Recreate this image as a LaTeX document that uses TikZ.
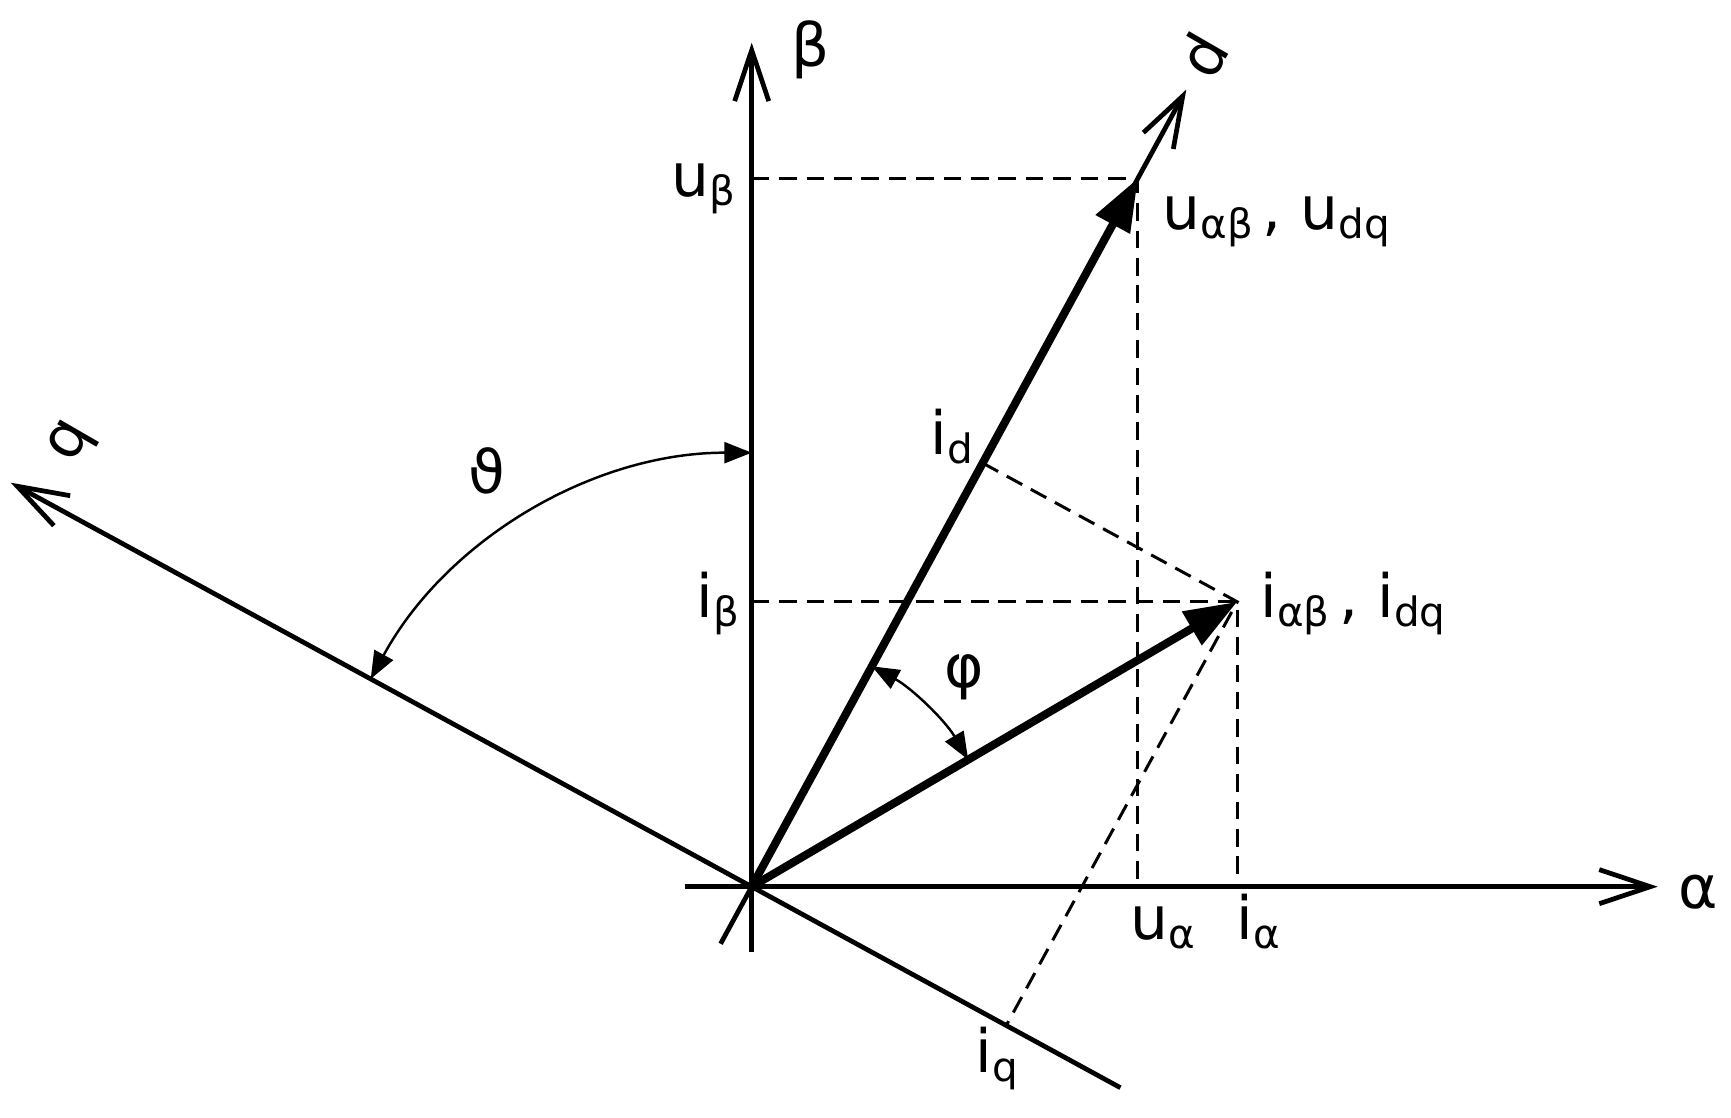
\documentclass[tikz,border=0pt]{standalone}
\usepackage{fontspec}
\setmainfont{DejaVu Sans}
\usetikzlibrary{arrows.meta,calc}
\newcommand{\sbs}[2]{#1\raisebox{-2.4pt}{\fontsize{11.5}{12}\selectfont #2}}

\begin{document}
\begin{tikzpicture}
	\tikzset{every node/.style={font=\fontsize{17}{20}\selectfont, inner sep=0pt}}
	\tikzset{axis/.style={line width=1.35pt, -{Straight Barb[length=14.5pt,width=9.7pt]}}}
	\tikzset{phasor/.style={line width=2.3pt, -{Triangle[length=15pt,width=10.6pt]}}}
	\tikzset{proj/.style={line width=0.85pt, dash pattern=on 5pt off 2.8pt}}
	\tikzset{angarc/.style={line width=0.7pt, {Triangle[length=7.8pt,width=6pt]}-{Triangle[length=7.8pt,width=6pt]}}}
	\useasboundingbox (0,0) rectangle (17.31,11.18);
	\coordinate (O) at (7.517,2.313);
	\coordinate (a0) at ($(O)+(-0.67,0)$);
	\coordinate (a1) at ($(O)+(9.06,0)$);
	\coordinate (b0) at ($(O)+(0,-0.65)$);
	\coordinate (b1) at ($(O)+(0,8.44)$);
	\coordinate (d0) at ($(O)+(241.4:0.65)$);
	\coordinate (d1) at ($(O)+(61.4:9.08)$);
	\coordinate (q0) at ($(O)+(-28.6:4.2)$);
	\coordinate (q1) at ($(O)+(151.4:8.44)$);
	\coordinate (u) at ($(O)+(61.4:8.07)$);
	\coordinate (i) at ($(O)+(30.4:5.63)$);
	\coordinate (id) at ($(O)!(i)!(d1)$);
	\coordinate (iq) at ($(O)!(i)!(q0)$);
	% axes
	\draw[axis] (a0) -- (a1);
	\draw[axis] (b0) -- (b1);
	\draw[axis] (d0) -- (d1);
	\draw[axis] (q0) -- (q1);
	% projections
	\draw[proj] (O |- u) -- (u) -- (u |- O);
	\draw[proj] (O |- i) -- (i) -- (i |- O);
	\draw[proj] (id) -- (i) -- (iq);
	% phasors
	\draw[phasor] (O) -- (u);
	\draw[phasor] (O) -- (i);
	% angles
	\draw[angarc] ($(O)+(151.4:4.34)$) arc[start angle=151.4, end angle=90, radius=4.34];
	\draw[angarc] ($(O)+(61.4:2.51)$) arc[start angle=61.4, end angle=30.4, radius=2.51];
	% labels
	\node (lbeta) at (8.11,10.68) {β};
	\node (lalpha) at (16.98,2.26) {α};
	\node[rotate=60] (ld) at (12.03,10.63) {d};
	\node[rotate=60] (lq) at (0.73,6.75) {q};
	\node (ltheta) at (4.87,6.47) {ϑ};
	\node (lphi) at (9.64,4.41) {φ};
	\node[anchor=base east] (lub) at (7.36,9.21) {\sbs{u}{β}};
	\node[anchor=base west] (lu) at (11.62,8.88) {\sbs{u}{αβ}\,, \sbs{u}{dq}};
	\node[anchor=base west] (lid) at (9.30,6.63) {\sbs{i}{d}};
	\node[anchor=base east] (lib) at (7.40,5.00) {\sbs{i}{β}};
	\node[anchor=base west] (li) at (12.60,5.00) {\sbs{i}{αβ}\,, \sbs{i}{dq}};
	\node[anchor=base west] (lua) at (11.30,1.78) {\sbs{u}{α}};
	\node[anchor=base west] (lia) at (12.36,1.78) {\sbs{i}{α}};
	\node[anchor=base west] (liq) at (9.75,0.45) {\sbs{i}{q}};
\end{tikzpicture}
\end{document}
